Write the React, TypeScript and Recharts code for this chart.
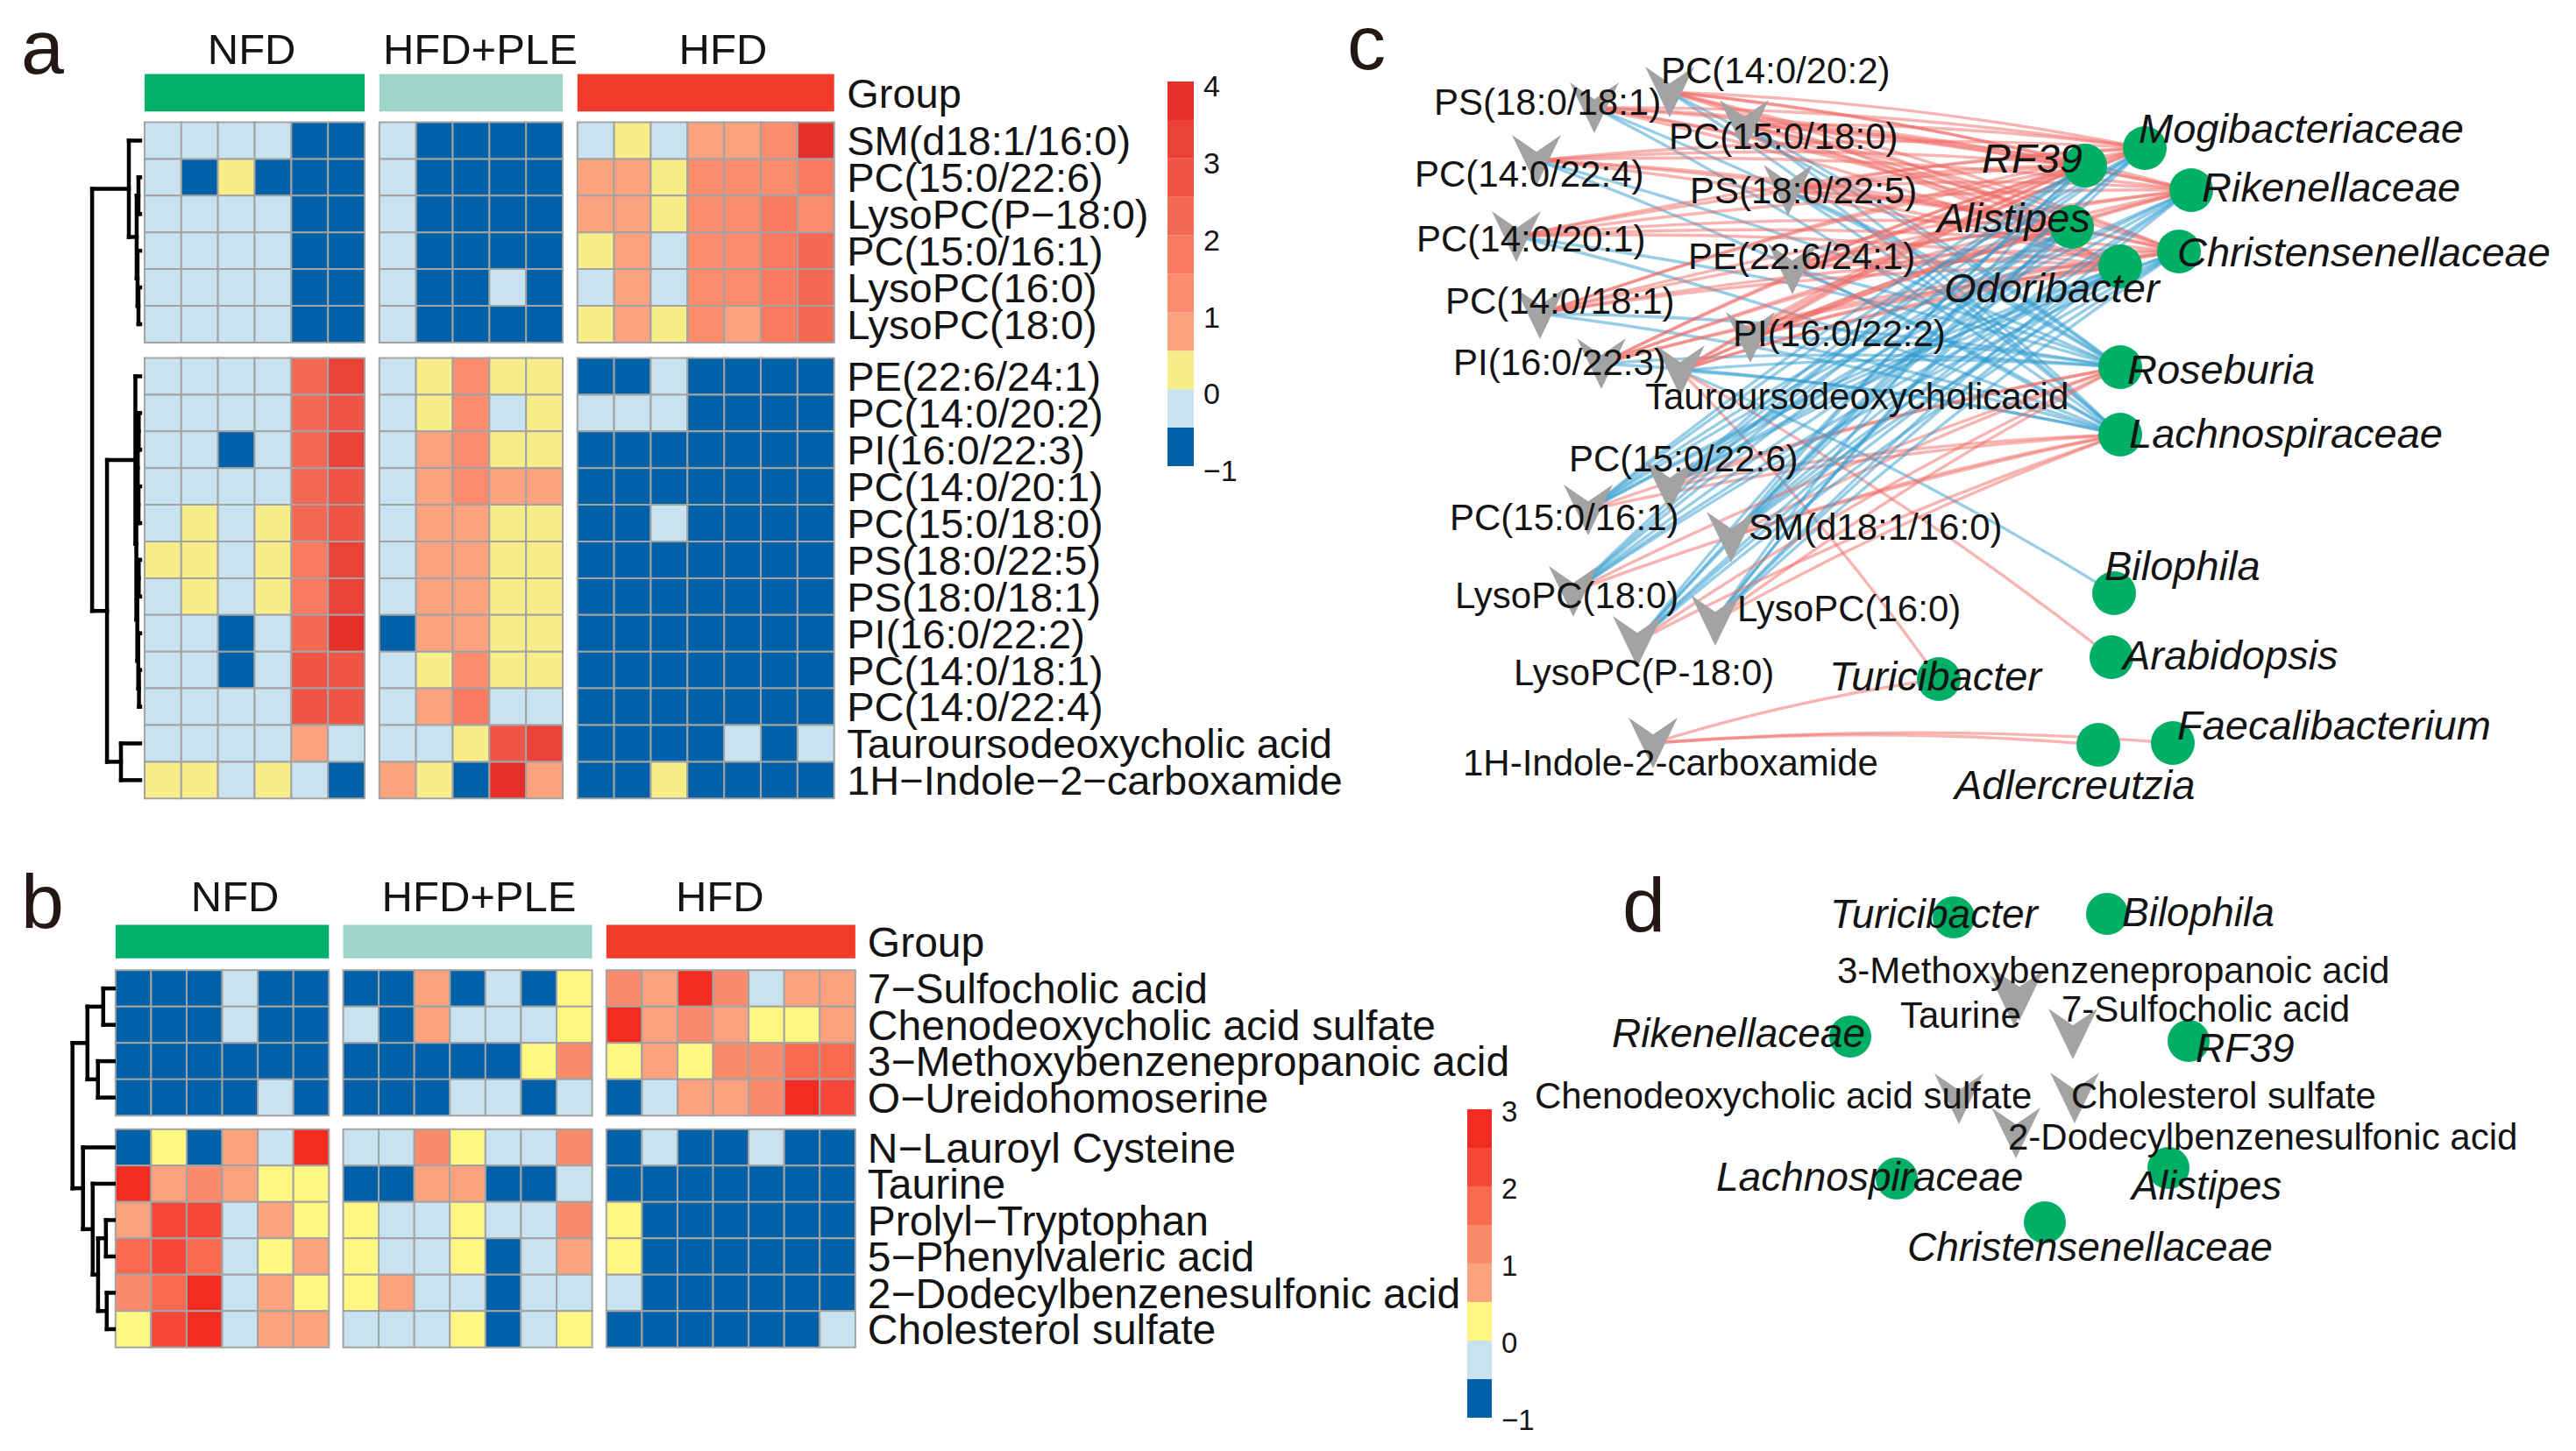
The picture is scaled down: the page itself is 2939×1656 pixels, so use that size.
import React from 'react';
import { ScatterChart, Scatter, XAxis, YAxis, ReferenceArea, ReferenceLine } from 'recharts';

const FONT = "'Liberation Sans', Arial, Helvetica, sans-serif";
const INK = '#141414';

// ================= shared =================
const GROUP_NAMES = ['NFD', 'HFD+PLE', 'HFD'];
const GROUP_COLORS = ['#00B06B', '#9DD6C8', '#F23B2B'];

// ================= panel a =================
const A_GROUP_SIZES = [6, 5, 7];
const A_BLOCK_SIZES = [6, 12];
const A_ROWS = [
  'SM(d18:1/16:0)', 'PC(15:0/22:6)', 'LysoPC(P\u221218:0)', 'PC(15:0/16:1)', 'LysoPC(16:0)', 'LysoPC(18:0)',
  'PE(22:6/24:1)', 'PC(14:0/20:2)', 'PI(16:0/22:3)', 'PC(14:0/20:1)', 'PC(15:0/18:0)', 'PS(18:0/22:5)',
  'PS(18:0/18:1)', 'PI(16:0/22:2)', 'PC(14:0/18:1)', 'PC(14:0/22:4)', 'Tauroursodeoxycholic acid',
  '1H\u2212Indole\u22122\u2212carboxamide',
];
const A_VALUES = [
  [-.25, -.25, -.25, -.25, -1, -1, -.25, -1, -1, -1, -1, -.25, .25, -.25, .75, .75, 1.25, 3.75],
  [-.25, -1, .25, -1, -1, -1, -.25, -1, -1, -1, -1, .75, .75, .25, 1.25, 1.25, 1.25, 1.75],
  [-.25, -.25, -.25, -.25, -1, -1, -.25, -1, -1, -1, -1, .75, .75, .25, 1.25, 1.25, 1.75, 1.25],
  [-.25, -.25, -.25, -.25, -1, -1, -.25, -1, -1, -1, -1, .25, .75, -.25, 1.25, 1.25, 1.75, 2.25],
  [-.25, -.25, -.25, -.25, -1, -1, -.25, -1, -1, -.25, -1, -.25, .75, -.25, 1.25, 1.25, 1.75, 2.25],
  [-.25, -.25, -.25, -.25, -1, -1, -.25, -1, -1, -1, -1, .25, .75, .25, 1.25, .75, 1.75, 2.25],
  [-.25, -.25, -.25, -.25, 2.25, 3.25, -.25, .25, 1.25, .25, .25, -1, -1, -.25, -1, -1, -1, -1],
  [-.25, -.25, -.25, -.25, 2.25, 2.75, -.25, .25, 1.25, -.25, .25, -.25, -.25, -.25, -1, -1, -1, -1],
  [-.25, -.25, -1, -.25, 2.25, 3.25, -.25, .75, 1.25, .25, .25, -1, -1, -1, -1, -1, -1, -1],
  [-.25, -.25, -.25, -.25, 2.25, 2.75, -.25, .75, 1.25, .75, .75, -1, -1, -1, -1, -1, -1, -1],
  [-.25, .25, -.25, .25, 2.25, 2.75, -.25, .75, .75, .25, .25, -1, -1, -.25, -1, -1, -1, -1],
  [.25, .25, -.25, .25, 1.75, 3.25, -.25, .75, .75, .25, .25, -1, -1, -1, -1, -1, -1, -1],
  [-.25, .25, -.25, .25, 1.75, 3.25, -.25, .75, .75, .25, .25, -1, -1, -1, -1, -1, -1, -1],
  [-.25, -.25, -1, -.25, 2.25, 3.75, -1, .75, .75, .25, .25, -1, -1, -1, -1, -1, -1, -1],
  [-.25, -.25, -1, -.25, 2.75, 2.75, -.25, .25, 1.25, .25, .25, -1, -1, -1, -1, -1, -1, -1],
  [-.25, -.25, -.25, -.25, 2.75, 2.75, -.25, .75, 1.75, -.25, -.25, -1, -1, -1, -1, -1, -1, -1],
  [-.25, -.25, -.25, -.25, .75, -.25, -.25, -.25, .25, 2.75, 3.25, -1, -1, -1, -1, -.25, -1, -.25],
  [.25, .25, -.25, .25, -.25, -1, .75, .25, -1, 3.75, .75, -1, -1, .25, -1, -1, -1, -1],
];
// dendrogram: [height (root = 1), left, right], leaves are row indices
const A_TREE: any = [1,
  [0.236, 0, [0.073, [0.036, 1, 2], [0.055, 3, [0.036, 4, 5]]]],
  [0.69,
    [0.1, 6, [0.08, [0.05, [0.03, 7, 8], [0.035, 9, 10]], [0.06, [0.03, 11, 12], [0.04, 13, [0.025, 14, 15]]]]],
    [0.4, 16, 17]],
];
const A_LEGEND_MIN = -1;
const A_LEGEND_STEP = 0.5;
const A_COLORS = ['#0061A8', '#C8E3EF', '#F7EE8A', '#FCA27F', '#FB8D6E', '#F87A60', '#F46954', '#EF5545', '#EA4236', '#E5302A'];
const A_LEGEND_TICKS = [-1, 0, 1, 2, 3, 4];

// ================= panel b =================
const B_GROUP_SIZES = [6, 7, 7];
const B_BLOCK_SIZES = [4, 6];
const B_ROWS = [
  '7\u2212Sulfocholic acid', 'Chenodeoxycholic acid sulfate', '3\u2212Methoxybenzenepropanoic acid',
  'O\u2212Ureidohomoserine', 'N\u2212Lauroyl Cysteine', 'Taurine', 'Prolyl\u2212Tryptophan',
  '5\u2212Phenylvaleric acid', '2\u2212Dodecylbenzenesulfonic acid', 'Cholesterol sulfate',
];
const B_VALUES = [
  [-1, -1, -1, -.25, -1, -1, -1, -1, .75, -1, -.25, -1, .25, 1.25, .75, 2.75, 1.25, -.25, .75, .75],
  [-1, -1, -1, -.25, -1, -1, -.25, -1, .75, -.25, -.25, -.25, .25, 2.75, .75, 1.25, .75, .25, .25, .75],
  [-1, -1, -1, -1, -1, -1, -1, -1, -1, -1, -1, .25, 1.25, .25, .75, .25, 1.25, 1.25, 1.75, 1.75],
  [-1, -1, -1, -1, -.25, -1, -1, -1, -1, -.25, -.25, -1, -.25, -1, -.25, .75, .75, 1.25, 2.75, 2.25],
  [-1, .25, -1, .75, -.25, 2.75, -.25, -.25, 1.25, .25, -.25, -.25, 1.25, -1, -.25, -1, -1, -.25, -1, -1],
  [2.75, .75, 1.25, .75, .25, .25, -1, -1, .75, .75, -1, -1, -.25, -1, -1, -1, -1, -1, -1, -1],
  [.75, 2.25, 2.25, -.25, .75, .25, .25, -.25, -.25, .25, -.25, -.25, 1.25, .25, -1, -1, -1, -1, -1, -1],
  [1.75, 2.25, 1.75, -.25, .25, .75, .25, -.25, -.25, .25, -1, -.25, .75, .25, -1, -1, -1, -1, -1, -1],
  [1.25, 1.75, 2.75, -.25, .75, .25, .25, .75, -.25, -.25, -1, -.25, -.25, -.25, -1, -1, -1, -1, -1, -1],
  [.25, 2.25, 2.75, -.25, .75, .75, -.25, -.25, -.25, .25, -1, -.25, .25, -1, -1, -1, -1, -1, -1, -.25],
];
const B_TREE: any = [1,
  [0.638, [0.255, 0, 1], [0.383, 2, 3]],
  [0.745, 4, [0.51, 5, [0.38, [0.19, 6, 7], [0.17, 8, 9]]]],
];
const B_LEGEND_MIN = -1;
const B_LEGEND_STEP = 0.5;
const B_COLORS = ['#0061A8', '#C8E3EF', '#FFF782', '#FCA27F', '#FA8B6D', '#F76A50', '#F5483A', '#F22C20'];
const B_LEGEND_TICKS = [-1, 0, 1, 2, 3];

// ================= panel c (network layout coordinates) =================
const C_MET_NAMES = [
  'PC(14:0/20:2)', 'PS(18:0/18:1)', 'PC(15:0/18:0)', 'PC(14:0/22:4)', 'PS(18:0/22:5)', 'PC(14:0/20:1)',
  'PE(22:6/24:1)', 'PC(14:0/18:1)', 'PI(16:0/22:2)', 'PI(16:0/22:3)', 'Tauroursodeoxycholicacid',
  'PC(15:0/22:6)', 'PC(15:0/16:1)', 'SM(d18:1/16:0)', 'LysoPC(18:0)', 'LysoPC(16:0)', 'LysoPC(P-18:0)',
  '1H-Indole-2-carboxamide',
];
const C_MET_XY = [
  [1905, 105], [1819, 123], [1990, 143], [1753, 183], [2040, 217], [1730, 270], [2045, 307], [1757, 358],
  [1997, 385], [1827, 415], [1917, 423], [1905, 555], [1812, 582], [1975, 613], [1795, 675], [1957, 708],
  [1868, 732], [1886, 848],
];
const C_MET_LABEL_XY = [
  [1895, 80], [1636, 116], [1904, 155], [1614, 198], [1928, 217], [1616, 272], [1926, 292], [1649, 343],
  [1977, 380], [1658, 413], [1877, 452], [1790, 523], [1654, 590], [1995, 601], [1660, 679], [1982, 694],
  [1727, 767], [1669, 870],
];
const C_BAC_NAMES = [
  'RF39', 'Mogibacteriaceae', 'Rikenellaceae', 'Alistipes', 'Christensenellaceae', 'Odoribacter', 'Roseburia',
  'Lachnospiraceae', 'Bilophila', 'Arabidopsis', 'Turicibacter', 'Adlercreutzia', 'Faecalibacterium',
];
const C_BAC_XY = [
  [2379, 189], [2447, 169], [2500, 217], [2364, 259], [2486, 287], [2419, 304], [2419, 419], [2419, 496],
  [2412, 677], [2409, 750], [2212, 775], [2394, 850], [2479, 848],
];
const C_BAC_LABEL_XY = [
  [2261, 180], [2440, 146], [2512, 213], [2210, 248], [2484, 287], [2218, 328], [2427, 421], [2429, 494],
  [2401, 645], [2422, 747], [2087, 771], [2230, 895], [2484, 827],
];
// correlation sign per metabolite (rows) x bacterium (columns, C_BAC_NAMES order)
const C_SIGNS = [
  '++++++--.....', '++++++--.....', '++++++--.....', '++++++--.....', '++++++--.....', '++++++--.....',
  '++++++--.....', '++++++--.....', '++++++--.....', '++++++--.....', '++++++---++..',
  '------++.....', '------++.....', '------++.....', '------++.....', '------++.....', '------++.....',
  '..........+++',
];

// ================= panel d =================
const D_MET_NAMES = [
  '3-Methoxybenzenepropanoic acid', 'Taurine', '7-Sulfocholic acid', 'Chenodeoxycholic acid sulfate',
  'Cholesterol sulfate', '2-Dodecylbenzenesulfonic acid',
];
const D_MET_XY = [[2304, 1136], [2298, 1142], [2365, 1180], [2235, 1254], [2367, 1253], [2300, 1293]];
const D_MET_LABEL_XY = [[2096, 1107], [2168, 1158], [2352, 1151], [1751, 1250], [2363, 1250], [2291, 1297]];
const D_BAC_NAMES = ['Turicibacter', 'Bilophila', 'Rikenellaceae', 'RF39', 'Lachnospiraceae', 'Alistipes', 'Christensenellaceae'];
const D_BAC_XY = [[2229, 1047], [2404, 1043], [2111, 1183], [2497, 1188], [2164, 1345], [2474, 1333], [2333, 1395]];
const D_BAC_LABEL_XY = [[2088, 1042], [2421, 1040], [1839, 1178], [2505, 1195], [1958, 1342], [2432, 1352], [2176, 1422]];
const D_SIGNS = ['.......', '.......', '.......', '.......', '.......', '.......'];

// ================= layout (positions / sizes / styles) =================
const A_LAYOUT = {
  cellLeft: 165, cellTop: 140, ux: 41.85, uy: 41.9, colGap: 0.4, rowGap: 0.42, xMin: -1.6, yMin: -2.9,
  padBottom: 0.25, labelGap: 14.5, labelWidth: 620, fontSize: 47, titleSize: 49, titleY: -2.0,
  titleDx: [-0.08, 0.25, 0.47], barY: [-1.31, -0.29], leafX: -0.12, dendroW: 1.31,
};
const B_LAYOUT = {
  cellLeft: 132, cellTop: 1107, ux: 40.58, uy: 41.5, colGap: 0.4, rowGap: 0.37, xMin: -1.4, yMin: -2.9,
  padBottom: 0.25, labelGap: 14, labelWidth: 780, fontSize: 48, titleSize: 49, titleY: -2.05,
  titleDx: [0.36, 0.32, -0.31], barY: [-1.25, -0.33], leafX: -0.05, dendroW: 1.16,
};
const A_BAR_BOX = { left: 1332, top: 93, width: 30, height: 439, gap: 11, fontSize: 34, dy: 5 };
const B_BAR_BOX = { left: 1674, top: 1266, width: 28, height: 352, gap: 11, fontSize: 33, dy: 2 };
const C_VIEW = { left: 1540, top: 20, width: 1399, height: 930, metFont: 42, bacFont: 47, dotR: 25 };
const D_VIEW = { left: 1740, top: 990, width: 1199, height: 490, metFont: 42, bacFont: 46, dotR: 24 };
const PANEL_LETTERS = [
  { t: 'a', x: 24, y: 84 }, { t: 'b', x: 24, y: 1059 }, { t: 'c', x: 1537, y: 79 }, { t: 'd', x: 1851, y: 1063 },
];
const CELL_STROKE = '#A3A3A3';
const DENDRO_WIDTH = 4.5;
const EDGE_POS = '#EF6A63';
const EDGE_NEG = '#2F9BD0';
const EDGE_OPACITY = 0.5;
const EDGE_WIDTH = 3.4;
const EDGE_BEND = 0.04;
const VEE_COLOR = '#A3A3A3';
const DOT_COLOR = '#00AF66';

// ================= helpers =================
function positions(sizes: number[], gap: number) {
  const out: number[] = [];
  let p = 0;
  sizes.forEach((n) => {
    for (let i = 0; i < n; i++) out.push(p + i);
    p += n + gap;
  });
  return out;
}

function valueColor(v: number, vmin: number, step: number, colors: string[]) {
  const i = Math.min(colors.length - 1, Math.max(0, Math.floor((v - vmin) / step)));
  return colors[i];
}

function dendroSegments(tree: any, rowPos: number[], leafX: number, w: number) {
  const segs: number[][] = [];
  const walk = (t: any): { y: number; h: number } => {
    if (typeof t === 'number') return { y: rowPos[t] + 0.5, h: 0 };
    const [h, l, r] = t;
    const a = walk(l);
    const b = walk(r);
    const x = leafX - h * w;
    segs.push([x, a.y, x, b.y]);
    segs.push([x, a.y, leafX - a.h * w, a.y]);
    segs.push([x, b.y, leafX - b.h * w, b.y]);
    return { y: (a.y + b.y) / 2, h };
  };
  walk(tree);
  return segs;
}

const fmtNum = (v: number) => (v < 0 ? '\u2212' + Math.abs(v) : String(v));

// ================= heatmap =================
function Heatmap(props: any) {
  const { L, groupSizes, rows, blockSizes, values, tree, colors, vmin, step } = props;
  const colPos = positions(groupSizes, L.colGap);
  const rowPos = positions(blockSizes, L.rowGap);
  const xMax = colPos[colPos.length - 1] + 1;
  const yMax = rowPos[rowPos.length - 1] + 1 + L.padBottom;
  const plotW = (xMax - L.xMin) * L.ux;
  const plotH = (yMax - L.yMin) * L.uy;
  const left = L.cellLeft + L.xMin * L.ux;
  const top = L.cellTop + L.yMin * L.uy;

  const groups: any[] = [];
  let k = 0;
  groupSizes.forEach((n: number, g: number) => {
    groups.push({ name: GROUP_NAMES[g], color: GROUP_COLORS[g], x1: colPos[k], x2: colPos[k + n - 1] + 1 });
    k += n;
  });

  const tickVals = [(L.barY[0] + L.barY[1]) / 2, ...rowPos.map((r) => r + 0.5)];
  const tickNames = ['Group', ...rows];
  const nameOf = new Map(tickVals.map((v, i) => [v.toFixed(4), tickNames[i]]));
  const titleData = groups.map((g, i) => ({ x: (g.x1 + g.x2) / 2 + L.titleDx[i], y: L.titleY, name: g.name }));
  const segs = dendroSegments(tree, rowPos, L.leafX, L.dendroW);

  return (
    <div style={{ position: 'absolute', left, top }}>
      <ScatterChart width={plotW + L.labelWidth} height={plotH} margin={{ top: 0, right: 0, bottom: 0, left: 0 }}>
        <XAxis type="number" dataKey="x" domain={[L.xMin, xMax]} hide allowDataOverflow />
        <YAxis
          type="number" dataKey="y" domain={[L.yMin, yMax]} reversed orientation="right" width={L.labelWidth}
          ticks={tickVals} interval={0} tickLine={false} axisLine={false} tickSize={0} tickMargin={L.labelGap}
          allowDataOverflow
          tick={(p: any) => (
            <text x={p.x} y={p.y} dy="0.36em" textAnchor="start" fontFamily={FONT} fontSize={L.fontSize} fill={INK}>
              {nameOf.get(Number(p.payload.value).toFixed(4))}
            </text>
          )}
        />
        {groups.map((g, i) => (
          <ReferenceArea key={'g' + i} x1={g.x1} x2={g.x2} y1={L.barY[0]} y2={L.barY[1]} fill={g.color}
            fillOpacity={1} stroke="none" ifOverflow="visible" />
        ))}
        {values.map((row: number[], r: number) => row.map((v: number, c: number) => (
          <ReferenceArea key={`c${r}-${c}`} x1={colPos[c]} x2={colPos[c] + 1} y1={rowPos[r]} y2={rowPos[r] + 1}
            fill={valueColor(v, vmin, step, colors)} fillOpacity={1} stroke={CELL_STROKE} strokeWidth={2}
            ifOverflow="visible" />
        )))}
        {segs.map((s, i) => (
          <ReferenceLine key={'d' + i} segment={[{ x: s[0], y: s[1] }, { x: s[2], y: s[3] }]} stroke="#000"
            strokeWidth={DENDRO_WIDTH} strokeLinecap="square" ifOverflow="visible" />
        ))}
        <Scatter data={titleData} isAnimationActive={false}
          shape={(p: any) => (
            <text x={p.cx} y={p.cy} dy="0.36em" textAnchor="middle" fontFamily={FONT} fontSize={L.titleSize} fill={INK}>
              {p.payload.name}
            </text>
          )} />
      </ScatterChart>
    </div>
  );
}

function ColorBar(props: any) {
  const { box, colors, vmin, step, ticks } = props;
  const vmax = vmin + step * colors.length;
  const M = 40;
  const AW = 100;
  return (
    <div style={{ position: 'absolute', left: box.left, top: box.top - M }}>
      <ScatterChart width={box.width + AW} height={box.height + 2 * M} margin={{ top: M, bottom: M, left: 0, right: 0 }}>
        <XAxis type="number" dataKey="x" domain={[0, 1]} hide allowDataOverflow />
        <YAxis type="number" dataKey="y" domain={[vmin, vmax]} orientation="right" width={AW} ticks={ticks}
          interval={0} tickLine={false} axisLine={false} tickSize={0} tickMargin={box.gap} allowDataOverflow
          tick={(p: any) => (
            <text x={p.x} y={p.y + box.dy} dy="0.36em" textAnchor="start" fontFamily={FONT} fontSize={box.fontSize} fill={INK}>
              {fmtNum(p.payload.value)}
            </text>
          )} />
        {colors.map((c: string, i: number) => (
          <ReferenceArea key={i} x1={0} x2={1} y1={vmin + i * step} y2={vmin + (i + 1) * step} fill={c}
            fillOpacity={1} stroke="none" ifOverflow="visible" />
        ))}
        <Scatter data={[]} isAnimationActive={false} />
      </ScatterChart>
    </div>
  );
}

// ================= network =================
const CurvedEdge = (p: any) => {
  const { x1, y1, x2, y2 } = p;
  const mx = (x1 + x2) / 2;
  const my = (y1 + y2) / 2;
  const cx = mx + (y2 - y1) * EDGE_BEND;
  const cy = my - (x2 - x1) * EDGE_BEND;
  return (
    <path d={`M${x1},${y1} Q${cx},${cy} ${x2},${y2}`} stroke={p.stroke} strokeWidth={p.strokeWidth}
      strokeOpacity={p.strokeOpacity} fill="none" />
  );
};

const VeeShape = (p: any) => {
  const w = 56;
  const h = 58;
  const { cx, cy } = p;
  const pts = [
    [cx - w / 2, cy - h / 2], [cx, cy - h / 2 + h / 3], [cx + w / 2, cy - h / 2], [cx, cy + h / 2],
  ].map((q) => q.join(',')).join(' ');
  return <polygon points={pts} fill={VEE_COLOR} />;
};

function Network(props: any) {
  const { view, metNames, metXY, metLabelXY, bacNames, bacXY, bacLabelXY, signs } = props;
  const mets = metNames.map((n: string, i: number) => ({ name: n, x: metXY[i][0], y: metXY[i][1] }));
  const bacs = bacNames.map((n: string, i: number) => ({ name: n, x: bacXY[i][0], y: bacXY[i][1] }));
  const labels = [
    ...metNames.map((n: string, i: number) => ({ name: n, x: metLabelXY[i][0], y: metLabelXY[i][1], italic: false })),
    ...bacNames.map((n: string, i: number) => ({ name: n, x: bacLabelXY[i][0], y: bacLabelXY[i][1], italic: true })),
  ];
  const edges: any[] = [];
  signs.forEach((row: string, i: number) => {
    row.split('').forEach((s, j) => {
      if (s === '+' || s === '-') edges.push({ a: mets[i], b: bacs[j], pos: s === '+' });
    });
  });
  const dotR = view.dotR;
  return (
    <div style={{ position: 'absolute', left: view.left, top: view.top }}>
      <ScatterChart width={view.width} height={view.height} margin={{ top: 0, right: 0, bottom: 0, left: 0 }}>
        <XAxis type="number" dataKey="x" domain={[view.left, view.left + view.width]} hide allowDataOverflow />
        <YAxis type="number" dataKey="y" domain={[view.top, view.top + view.height]} reversed hide allowDataOverflow />
        {edges.map((e, i) => (
          <ReferenceLine key={'e' + i} segment={[{ x: e.a.x, y: e.a.y }, { x: e.b.x, y: e.b.y }]}
            stroke={e.pos ? EDGE_POS : EDGE_NEG} strokeWidth={EDGE_WIDTH} strokeOpacity={EDGE_OPACITY}
            shape={CurvedEdge} ifOverflow="visible" />
        ))}
        <Scatter data={mets} isAnimationActive={false} shape={VeeShape} />
        <Scatter data={bacs} isAnimationActive={false}
          shape={(p: any) => <circle cx={p.cx} cy={p.cy} r={dotR} fill={DOT_COLOR} />} />
        <Scatter data={labels} isAnimationActive={false}
          shape={(p: any) => (
            <text x={p.cx} y={p.cy} dy="0.36em" textAnchor="start" fontFamily={FONT}
              fontSize={p.payload.italic ? view.bacFont : view.metFont}
              fontStyle={p.payload.italic ? 'italic' : 'normal'} fill={INK}>
              {p.payload.name}
            </text>
          )} />
      </ScatterChart>
    </div>
  );
}

export default function App() {
  return (
    <div style={{ position: 'absolute', left: 0, top: 0, width: 2939, height: 1656, background: '#fff', overflow: 'hidden' }}>
      <svg width={2939} height={1656} style={{ position: 'absolute', left: 0, top: 0 }}>
        {PANEL_LETTERS.map((l) => (
          <text key={l.t} x={l.x} y={l.y} fontFamily={FONT} fontSize={88} fill="#231815">{l.t}</text>
        ))}
      </svg>
      <Heatmap L={A_LAYOUT} groupSizes={A_GROUP_SIZES} rows={A_ROWS} blockSizes={A_BLOCK_SIZES} values={A_VALUES}
        tree={A_TREE} colors={A_COLORS} vmin={A_LEGEND_MIN} step={A_LEGEND_STEP} />
      <ColorBar box={A_BAR_BOX} colors={A_COLORS} vmin={A_LEGEND_MIN} step={A_LEGEND_STEP} ticks={A_LEGEND_TICKS} />
      <Heatmap L={B_LAYOUT} groupSizes={B_GROUP_SIZES} rows={B_ROWS} blockSizes={B_BLOCK_SIZES} values={B_VALUES}
        tree={B_TREE} colors={B_COLORS} vmin={B_LEGEND_MIN} step={B_LEGEND_STEP} />
      <ColorBar box={B_BAR_BOX} colors={B_COLORS} vmin={B_LEGEND_MIN} step={B_LEGEND_STEP} ticks={B_LEGEND_TICKS} />
      <Network view={C_VIEW} metNames={C_MET_NAMES} metXY={C_MET_XY} metLabelXY={C_MET_LABEL_XY}
        bacNames={C_BAC_NAMES} bacXY={C_BAC_XY} bacLabelXY={C_BAC_LABEL_XY} signs={C_SIGNS} />
      <Network view={D_VIEW} metNames={D_MET_NAMES} metXY={D_MET_XY} metLabelXY={D_MET_LABEL_XY}
        bacNames={D_BAC_NAMES} bacXY={D_BAC_XY} bacLabelXY={D_BAC_LABEL_XY} signs={D_SIGNS} />
    </div>
  );
}
